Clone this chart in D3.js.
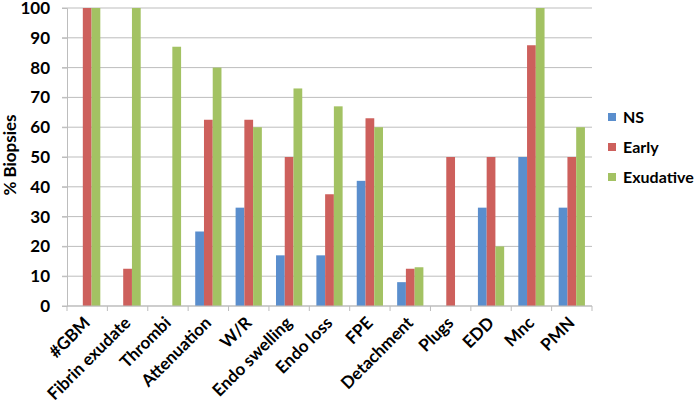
<!DOCTYPE html>
<html>
<head>
<meta charset="utf-8">
<script src="https://cdn.jsdelivr.net/npm/d3@7"></script>
<style>
  body { margin: 0; background: #fff; }
  svg text { font-family: Lato, "Open Sans", sans-serif; fill: #000; }
</style>
</head>
<body>
<svg id="chart"></svg>
<script>
// chart data
const categories = ['#GBM', 'Fibrin exudate', 'Thrombi', 'Attenuation', 'W/R', 'Endo swelling',
  'Endo loss', 'FPE', 'Detachment', 'Plugs', 'EDD', 'Mnc', 'PMN'];
const seriesNames = ['NS', 'Early', 'Exudative'];
const nsValues = [0, 0, 0, 25, 33, 17, 17, 42, 8, 0, 33, 50, 33];
const earlyValues = [100, 12.5, 0, 62.5, 62.5, 50, 37.5, 63, 12.5, 50, 50, 87.5, 50];
const exudativeValues = [100, 100, 87, 80, 60, 73, 67, 60, 13, 0, 20, 100, 60];
const yTicks = [0, 10, 20, 30, 40, 50, 60, 70, 80, 90, 100];
const colors = ['#5a8ecd', '#cd605c', '#a3c263'];

const allSeries = [nsValues, earlyValues, exudativeValues];

const margin = {top: 8, right: 105, bottom: 103, left: 67};
const W = 697, H = 409;
const width = W - margin.left - margin.right;
const height = H - margin.top - margin.bottom;

const svg = d3.select('#chart')
  .attr('width', W)
  .attr('height', H)
  .append('g')
    .attr('transform', 'translate(' + margin.left + ',' + margin.top + ')');

const x = d3.scaleBand()
  .domain(categories)
  .range([0, width])
  .paddingInner(0.35)
  .paddingOuter(0.175);

const xs = d3.scaleBand()
  .domain(seriesNames)
  .range([0, x.bandwidth()]);

const y = d3.scaleLinear()
  .domain([0, 100])
  .range([height, 0]);

// gridlines
svg.append('g')
  .selectAll('line')
  .data(yTicks)
  .join('line')
    .attr('x1', -5)
    .attr('x2', width)
    .attr('y1', d => y(d))
    .attr('y2', d => y(d))
    .attr('stroke', '#bdbdbd')
    .attr('stroke-width', 1);

// y axis
const yAxis = svg.append('g')
  .call(d3.axisLeft(y).tickValues(yTicks).tickSize(5).tickPadding(12));
yAxis.select('.domain').attr('stroke', '#bdbdbd');
yAxis.selectAll('.tick line').attr('stroke', '#bdbdbd');
yAxis.selectAll('.tick text')
  .attr('font-size', '17px')
  .attr('font-weight', 700)
  .attr('font-family', 'Lato, sans-serif')
  .attr('fill', '#000');

// bars
const groups = svg.append('g')
  .selectAll('g')
  .data(categories)
  .join('g')
    .attr('transform', d => 'translate(' + x(d) + ',0)');

groups.selectAll('rect')
  .data((d, i) => seriesNames.map((s, j) => ({s: s, v: allSeries[j][i], j: j})))
  .join('rect')
    .attr('x', d => xs(d.s))
    .attr('width', xs.bandwidth())
    .attr('y', d => y(d.v))
    .attr('height', d => height - y(d.v))
    .attr('fill', d => colors[d.j]);

// x axis with ticks between categories
const xAxis = svg.append('g')
  .attr('transform', 'translate(0,' + height + ')');
xAxis.append('line')
  .attr('x1', 0).attr('x2', width)
  .attr('stroke', '#bdbdbd');
xAxis.selectAll('.tk')
  .data(d3.range(categories.length + 1))
  .join('line')
    .attr('class', 'tk')
    .attr('x1', i => i * width / categories.length)
    .attr('x2', i => i * width / categories.length)
    .attr('y1', 0)
    .attr('y2', 5)
    .attr('stroke', '#bdbdbd');

// rotated category labels
xAxis.selectAll('.lbl')
  .data(categories)
  .join('text')
    .attr('class', 'lbl')
    .attr('text-anchor', 'end')
    .attr('font-size', '17px')
    .attr('font-weight', 700)
    .attr('transform', d => 'translate(' + (x(d) + x.bandwidth() / 2 + 4) + ',18) rotate(-45)')
    .text(d => d);

// y label
svg.append('text')
  .attr('text-anchor', 'middle')
  .attr('transform', 'translate(' + (-51) + ',' + (height / 2 - 2) + ') rotate(-90)')
  .attr('font-size', '17px')
  .attr('font-weight', 700)
  .text('% Biopsies');

// legend
const legend = svg.append('g')
  .attr('transform', 'translate(' + (width + 16) + ',' + 109 + ')');
const li = legend.selectAll('g')
  .data(seriesNames)
  .join('g')
    .attr('transform', (d, i) => 'translate(0,' + (i * 30) + ')');
li.append('rect')
  .attr('width', 8)
  .attr('height', 8)
  .attr('y', -4)
  .attr('fill', (d, i) => colors[i]);
li.append('text')
  .attr('x', 15)
  .attr('dy', '0.36em')
  .attr('font-size', '16px')
  .attr('font-weight', 700)
  .text(d => d);
</script>
</body>
</html>
